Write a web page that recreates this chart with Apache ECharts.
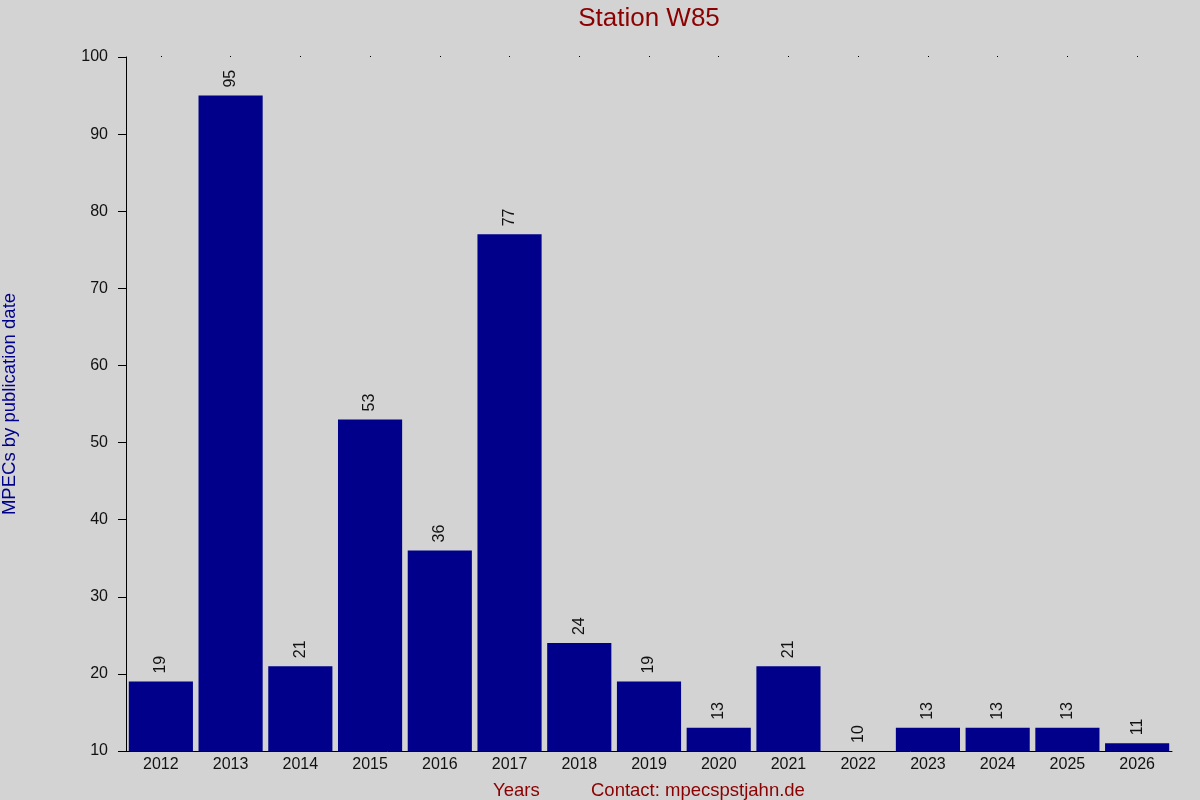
<!DOCTYPE html>
<html>
<head>
<meta charset="utf-8">
<script src="https://cdn.jsdelivr.net/npm/echarts@6/dist/echarts.min.js"></script>
<style>
html,body{margin:0;padding:0;background:#d3d3d3;}
#chart{width:1200px;height:800px;}
</style>
</head>
<body>
<div id="chart"></div>
<script>
// 数据
var years = ['2012','2013','2014','2015','2016','2017','2018','2019','2020','2021','2022','2023','2024','2025','2026'];
var mpecs = [19, 95, 21, 53, 36, 77, 24, 19, 13, 21, 10, 13, 13, 13, 11];
var yMin = 10, yMax = 100, yStep = 10;

var myChart = echarts.init(document.getElementById('chart'));
var font = 'Liberation Sans, Arial, sans-serif';

var option = {
	backgroundColor: '#d3d3d3',
	animation: false,
	textStyle: { fontFamily: font },
	title: [{
		text: 'Station W85',
		left: 644,
		textAlign: 'center',
		top: 1,
		textStyle: { color: '#8b0000', fontSize: 26, fontWeight: 'normal', fontFamily: font }
	}, {
		text: 'Years',
		left: 488,
		top: 776,
		textStyle: { color: '#8b0000', fontSize: 18.5, fontWeight: 'normal', fontFamily: font }
	}, {
		text: 'Contact: mpecspstjahn.de',
		left: 586,
		top: 776,
		textStyle: { color: '#8b0000', fontSize: 18.5, fontWeight: 'normal', fontFamily: font }
	}],
	grid: {
		left: 126,
		right: 28,
		top: 57,
		bottom: 49,
		containLabel: false,
		outerBoundsMode: 'none'
	},
	xAxis: [{
		type: 'category',
		data: years,
		axisLine: { lineStyle: { color: '#000', width: 1 } },
		axisTick: { show: false },
		axisLabel: { color: '#111', fontSize: 16, margin: 6, fontFamily: font }
	}, {
		type: 'category',
		data: years,
		position: 'top',
		axisLine: { show: false },
		axisTick: { show: true, alignWithLabel: true, length: 1, lineStyle: { color: '#000' } },
		axisLabel: { show: false }
	}],
	yAxis: {
		type: 'value',
		min: yMin,
		max: yMax,
		interval: yStep,
		name: 'MPECs by publication date',
		nameLocation: 'middle',
		nameGap: 107,
		nameTextStyle: { color: '#00008b', fontSize: 18.5, fontFamily: font },
		axisLine: { show: true, lineStyle: { color: '#000', width: 1 } },
		axisTick: { show: true, length: 8, lineStyle: { color: '#000' } },
		axisLabel: { color: '#111', fontSize: 16, margin: 18, fontFamily: font },
		splitLine: { show: false }
	},
	series: [{
		name: 'MPECs',
		type: 'bar',
		data: mpecs,
		barCategoryGap: '8%',
		itemStyle: { color: '#00008b' },
		label: {
			show: true,
			position: 'top',
			rotate: 90,
			align: 'left',
			verticalAlign: 'middle',
			distance: 8,
			color: '#111',
			fontSize: 16,
			fontFamily: font
		}
	}]
};

myChart.setOption(option);
</script>
</body>
</html>
